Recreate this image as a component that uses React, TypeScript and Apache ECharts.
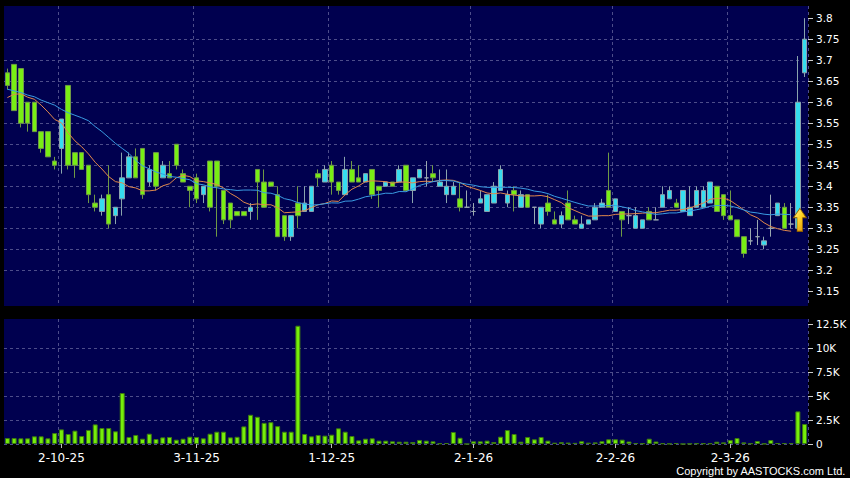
import React, { useEffect, useRef } from "react";
import * as echarts from "echarts";

// Trading days (d-m-yy)
const dates = [
  "19-9-25","22-9-25","23-9-25","24-9-25","25-9-25","26-9-25","29-9-25","30-9-25",
  "2-10-25","3-10-25","6-10-25","8-10-25","9-10-25","10-10-25","13-10-25","14-10-25","15-10-25","16-10-25","17-10-25","20-10-25","21-10-25","22-10-25","23-10-25","24-10-25","27-10-25","28-10-25","30-10-25","31-10-25",
  "3-11-25","4-11-25","5-11-25","6-11-25","7-11-25","10-11-25","11-11-25","12-11-25","13-11-25","14-11-25","17-11-25","18-11-25","19-11-25","20-11-25","21-11-25","24-11-25","25-11-25","26-11-25","27-11-25","28-11-25",
  "1-12-25","2-12-25","3-12-25","4-12-25","5-12-25","8-12-25","9-12-25","10-12-25","11-12-25","12-12-25","15-12-25","16-12-25","17-12-25","18-12-25","19-12-25","22-12-25","23-12-25","24-12-25","29-12-25","30-12-25","31-12-25",
  "2-1-26","5-1-26","6-1-26","7-1-26","8-1-26","9-1-26","12-1-26","13-1-26","14-1-26","15-1-26","16-1-26","19-1-26","20-1-26","21-1-26","22-1-26","23-1-26","26-1-26","27-1-26","28-1-26","29-1-26","30-1-26",
  "2-2-26","3-2-26","4-2-26","5-2-26","6-2-26","9-2-26","10-2-26","11-2-26","12-2-26","13-2-26","16-2-26","20-2-26","23-2-26","24-2-26","25-2-26","26-2-26","27-2-26",
  "2-3-26","3-3-26","4-3-26","5-3-26","6-3-26","9-3-26","10-3-26","11-3-26","12-3-26","13-3-26","16-3-26","17-3-26",
];

const opens = [
  3.67,3.69,3.68,3.60,3.60,3.53,3.53,3.46,3.49,3.64,
  3.48,3.48,3.45,3.36,3.34,3.38,3.33,3.37,3.42,3.47,
  3.49,3.41,3.48,3.42,3.43,3.50,3.43,3.40,3.42,3.38,
  3.46,3.46,3.39,3.36,3.34,3.34,3.34,3.44,3.41,3.41,
  3.38,3.33,3.28,3.36,3.34,3.34,3.43,3.41,3.45,3.41,
  3.38,3.44,3.42,3.41,3.44,3.40,3.40,3.41,3.41,3.45,
  3.39,3.42,3.42,3.43,3.40,3.38,3.38,3.37,3.35,3.34,
  3.36,3.34,3.36,3.39,3.36,3.39,3.35,3.38,3.35,3.31,
  3.36,3.32,3.31,3.36,3.32,3.30,3.31,3.32,3.35,3.39,
  3.34,3.34,3.33,3.30,3.30,3.34,3.32,3.35,3.37,3.36,
  3.34,3.33,3.35,3.35,3.36,3.40,3.38,3.33,3.32,3.28,
  3.27,3.28,3.26,3.30,3.33,3.35,3.31,3.30,3.67,
];

const closes = [
  3.64,3.58,3.55,3.55,3.53,3.49,3.47,3.45,3.56,3.45,
  3.45,3.44,3.38,3.35,3.37,3.31,3.35,3.42,3.47,3.42,
  3.38,3.44,3.40,3.45,3.42,3.45,3.41,3.39,3.37,3.40,
  3.35,3.40,3.32,3.32,3.33,3.33,3.35,3.41,3.35,3.40,
  3.28,3.28,3.33,3.33,3.36,3.40,3.42,3.44,3.41,3.39,
  3.44,3.41,3.41,3.43,3.38,3.39,3.41,3.40,3.44,3.39,
  3.42,3.44,3.42,3.42,3.41,3.40,3.40,3.35,3.35,3.34,
  3.37,3.38,3.40,3.44,3.38,3.38,3.38,3.35,3.35,3.35,
  3.34,3.31,3.33,3.32,3.31,3.31,3.32,3.35,3.36,3.35,
  3.37,3.32,3.33,3.33,3.32,3.32,3.32,3.38,3.39,3.35,
  3.39,3.35,3.39,3.39,3.41,3.34,3.33,3.32,3.28,3.24,
  3.27,3.28,3.27,3.30,3.36,3.30,3.31,3.60,3.75,
];

const lows = [
  3.63,3.58,3.54,3.53,3.53,3.48,3.47,3.44,3.43,3.44,
  3.42,3.44,3.36,3.34,3.33,3.30,3.31,3.33,3.42,3.42,
  3.37,3.40,3.39,3.42,3.42,3.44,3.41,3.35,3.36,3.36,
  3.34,3.28,3.31,3.30,3.33,3.33,3.32,3.32,3.35,3.40,
  3.28,3.27,3.27,3.30,3.34,3.34,3.40,3.41,3.38,3.38,
  3.38,3.41,3.41,3.41,3.37,3.35,3.40,3.40,3.41,3.39,
  3.36,3.42,3.40,3.41,3.40,3.36,3.38,3.34,3.35,3.33,
  3.36,3.34,3.36,3.39,3.35,3.34,3.35,3.35,3.31,3.30,
  3.33,3.31,3.30,3.32,3.31,3.30,3.31,3.32,3.35,3.35,
  3.34,3.28,3.31,3.30,3.30,3.32,3.32,3.35,3.37,3.35,
  3.34,3.33,3.35,3.35,3.36,3.34,3.32,3.32,3.28,3.23,
  3.26,3.26,3.25,3.28,3.33,3.30,3.30,3.30,3.66,
];

const highs = [
  3.68,3.69,3.68,3.60,3.60,3.53,3.53,3.47,3.56,3.64,
  3.48,3.48,3.45,3.38,3.38,3.45,3.35,3.48,3.48,3.49,
  3.49,3.45,3.48,3.46,3.46,3.50,3.44,3.40,3.43,3.40,
  3.46,3.46,3.39,3.36,3.34,3.34,3.36,3.44,3.44,3.41,
  3.40,3.33,3.33,3.40,3.40,3.40,3.44,3.45,3.46,3.41,
  3.47,3.46,3.45,3.43,3.44,3.40,3.41,3.41,3.45,3.45,
  3.42,3.44,3.46,3.45,3.44,3.44,3.41,3.41,3.39,3.36,
  3.39,3.38,3.41,3.45,3.39,3.40,3.39,3.38,3.35,3.35,
  3.38,3.34,3.34,3.39,3.33,3.33,3.32,3.36,3.37,3.48,
  3.37,3.34,3.35,3.35,3.32,3.35,3.35,3.40,3.40,3.37,
  3.39,3.40,3.40,3.40,3.41,3.40,3.38,3.39,3.32,3.28,
  3.30,3.32,3.28,3.38,3.36,3.36,3.36,3.71,3.80,
];

// Volume in thousands
const volumes = [
  0.62,0.62,0.59,0.59,0.80,0.80,0.59,1.14,1.52,1.04,
  1.39,0.83,1.46,2.04,1.66,1.66,1.32,5.30,0.73,0.94,
  0.55,1.07,0.52,0.69,0.73,0.45,0.55,0.76,0.73,0.59,
  1.07,1.28,1.28,0.69,0.75,1.83,3.04,2.83,2.20,2.27,
  1.86,1.28,1.28,12.3,1.04,0.80,0.94,0.87,0.97,1.63,
  1.28,0.83,0.38,0.55,0.59,0.35,0.35,0.28,0.24,0.24,
  0.21,0.42,0.35,0.28,0.07,0.10,1.25,0.65,0.00,0.28,
  0.28,0.35,0.21,0.76,1.45,1.04,0.24,0.73,0.49,0.73,
  0.35,0.14,0.19,0.15,0.12,0.29,0.14,0.17,0.29,0.49,
  0.49,0.45,0.26,0.10,0.07,0.55,0.26,0.07,0.03,0.10,
  0.00,0.03,0.07,0.07,0.07,0.24,0.17,0.41,0.62,0.17,
  0.07,0.31,0.03,0.41,0.10,0.10,0.10,3.39,2.08,
];

const ma10Lead = [3.611,3.619,3.620,3.612,3.607,3.593,3.577,3.559,3.551];
const ma20Lead = [3.631,3.627,3.623,3.617,3.613,3.605,3.599,3.593,3.583,3.575,3.569,3.563,3.556,3.542,3.530,3.516,3.502,3.490,3.478];
const maLastDate = "13-3-26";

const monthTicks = ["2-10-25","3-11-25","1-12-25","2-1-26","2-2-26","2-3-26"];
const priceTicks = [3.15,3.2,3.25,3.3,3.35,3.4,3.45,3.5,3.55,3.6,3.65,3.7,3.75,3.8];
const volumeTicks = [0,2.5,5,7.5,10,12.5];

const signalDate = "16-3-26";
const signalPrice = 3.32;

function movingAverage(values: number[], windowSize: number, lead: number[], lastIndex: number) {
  return values.map((_, i) => {
    if (i > lastIndex) return null;
    if (i < lead.length) return lead[i];
    const slice = values.slice(i - windowSize + 1, i + 1);
    return +(slice.reduce((a, b) => a + b, 0) / slice.length).toFixed(4);
  });
}

const NAVY = "#00004f";
const gridLine = { color: "#4d4d8a", type: [3, 3] as any, width: 1 };
const isMonthTick = (_i: number, value: string) => monthTicks.includes(value);

export default function App() {
  const ref = useRef<HTMLDivElement>(null);
  useEffect(() => {
    const chart = echarts.init(ref.current!, null, { renderer: "svg" });
    const lastMa = dates.indexOf(maLastDate);
    const ma10 = movingAverage(closes, 10, ma10Lead, lastMa);
    const ma20 = movingAverage(closes, 20, ma20Lead, lastMa);
    const candles = dates.map((_, i) => [opens[i], closes[i], lows[i], highs[i]]);

    const option: any = {
      animation: false,
      backgroundColor: "#000000",
      grid: [
        { left: 4, top: 6, width: 804, height: 300, show: true, backgroundColor: NAVY, borderWidth: 0 },
        { left: 4, top: 319, width: 804, height: 125, show: true, backgroundColor: NAVY, borderWidth: 0 },
      ],
      xAxis: [
        {
          type: "category", gridIndex: 0, data: dates, boundaryGap: true,
          axisLine: { show: false }, axisTick: { show: false }, axisLabel: { show: false },
          splitLine: { show: true, interval: isMonthTick, lineStyle: gridLine },
        },
        {
          type: "category", gridIndex: 1, data: dates, boundaryGap: true,
          axisLine: { show: false },
          axisTick: { show: true, interval: isMonthTick, alignWithLabel: true, length: 4, lineStyle: { color: "#bbbbbb" } },
          axisLabel: { interval: isMonthTick, color: "#ffffff", fontSize: 12, fontFamily: "DejaVu Sans", margin: 8 },
          splitLine: { show: true, interval: isMonthTick, lineStyle: gridLine },
        },
      ],
      yAxis: [
        {
          type: "value", gridIndex: 0, position: "right", min: 3.115, max: 3.829,
          minInterval: 0.05, maxInterval: 0.05,
          axisLine: { show: false },
          axisTick: { show: true, length: 5, customValues: priceTicks, lineStyle: { color: "#cccccc" } },
          axisLabel: {
            customValues: priceTicks, color: "#ffffff", fontSize: 10.5, fontFamily: "DejaVu Sans", margin: 8,
            showMinLabel: true, showMaxLabel: true,
            formatter: (v: number) => String(+v.toFixed(2)),
          },
          splitLine: { show: true, lineStyle: gridLine, showMinLine: false, showMaxLine: false },
        },
        {
          type: "value", gridIndex: 1, position: "right", min: 0, max: 13,
          minInterval: 2.5, maxInterval: 2.5,
          axisLine: { show: false },
          axisTick: { show: true, length: 5, customValues: volumeTicks, lineStyle: { color: "#cccccc" } },
          axisLabel: {
            customValues: volumeTicks, color: "#ffffff", fontSize: 10.5, fontFamily: "DejaVu Sans", margin: 8,
            showMinLabel: true, showMaxLabel: true,
            formatter: (v: number) => (v === 0 ? "0" : `${+v.toFixed(1)}K`),
          },
          splitLine: { show: true, lineStyle: gridLine, showMaxLine: false },
        },
      ],
      series: [
        {
          type: "candlestick", xAxisIndex: 0, yAxisIndex: 0, data: candles, barWidth: "74%",
          itemStyle: {
            color: "#36dcef", color0: "#78ee14",
            borderColor: "#8aa4ad", borderColor0: "#6f9a45", borderColorDoji: "#9aa8b0", borderWidth: 1,
          },
          markPoint: {
            silent: true,
            label: { show: false },
            data: [
              {
                coord: [signalDate, signalPrice],
                symbol: "path://M6,0 L12,9 L8.6,9 L8.6,22 L3.4,22 L3.4,9 L0,9 Z",
                symbolSize: [13, 23],
                symbolOffset: [2, 0],
                itemStyle: {
                  color: new echarts.graphic.LinearGradient(0, 0, 1, 1, [
                    { offset: 0, color: "#fff79a" },
                    { offset: 0.45, color: "#ffd425" },
                    { offset: 1, color: "#d98600" },
                  ]),
                  borderColor: "#8a5a00", borderWidth: 0.8,
                },
              },
            ],
          },
        },
        {
          type: "line", xAxisIndex: 0, yAxisIndex: 0, data: ma10, symbol: "none", smooth: false,
          lineStyle: { color: "#e0874c", width: 1 }, itemStyle: { color: "#e0874c" }, z: 3,
        },
        {
          type: "line", xAxisIndex: 0, yAxisIndex: 0, data: ma20, symbol: "none", smooth: false,
          lineStyle: { color: "#3a9be2", width: 1 }, itemStyle: { color: "#3a9be2" }, z: 3,
        },
        {
          type: "bar", xAxisIndex: 1, yAxisIndex: 1, data: volumes, barWidth: "74%",
          itemStyle: { color: "#76ee0a", borderColor: "#3d7a10", borderWidth: 1 },
        },
      ],
      graphic: [
        {
          type: "text", right: 4, top: 465,
          style: { text: "Copyright by AASTOCKS.com Ltd.", fill: "#ffffff", font: '11px "Liberation Sans", Arial, sans-serif' },
        },
      ],
    };
    chart.setOption(option);
    return () => chart.dispose();
  }, []);
  return <div ref={ref} style={{ position: "absolute", left: 0, top: 0, width: 850, height: 478 }} />;
}
